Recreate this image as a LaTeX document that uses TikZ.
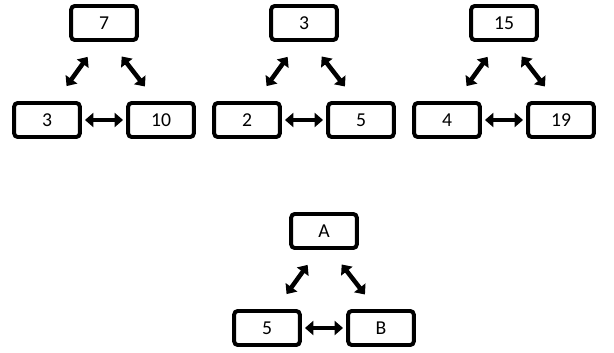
\documentclass[tikz,border=0pt]{standalone}
\usepackage{fontspec}
\setmainfont{Carlito}
\usepackage{tikz}
\usetikzlibrary{arrows.meta,positioning,calc}
\tikzstyle{box}  =[rectangle, draw, rounded corners=2.5pt,
                   line width=2.8pt, minimum width=1.64cm,
                   minimum height=0.85cm, inner sep=0pt,
                   font=\fontsize{14}{16}\selectfont]
\tikzstyle{dedge}=[<->, >={Triangle[length=6pt,width=10pt]},
                   line width=3.2pt]
\tikzstyle{sedge}=[dedge, shorten <=0.46cm, shorten >=0.46cm]
\tikzstyle{hedge}=[dedge, shorten <=0.08cm, shorten >=0.08cm]

\begin{document}
\begin{tikzpicture}
    \useasboundingbox (0,0) rectangle (15.35,8.8);

        %triangle 7, 3, 10
        \begin{scope}[xshift=2.6cm,yshift=8.225cm]
            \draw (0,0) node (t1) [box] {7};
            \draw (-1.425,-2.425) node (l1) [box] {3};
            \draw (1.425,-2.425) node (r1) [box] {10};
            \draw [sedge] ([xshift=-0.14cm]t1.south) -- ([xshift=0.22cm]l1.north);
            \draw [sedge] ([xshift=0.16cm]t1.south) -- ([xshift=-0.12cm]r1.north);
            \draw [hedge] (l1) -- (r1);
        \end{scope}

        %triangle 3, 2, 5
        \begin{scope}[xshift=7.6cm,yshift=8.225cm]
            \draw (0,0) node (t2) [box] {3};
            \draw (-1.425,-2.425) node (l2) [box] {2};
            \draw (1.425,-2.425) node (r2) [box] {5};
            \draw [sedge] ([xshift=-0.14cm]t2.south) -- ([xshift=0.22cm]l2.north);
            \draw [sedge] ([xshift=0.16cm]t2.south) -- ([xshift=-0.12cm]r2.north);
            \draw [hedge] (l2) -- (r2);
        \end{scope}

        %triangle 15, 4, 19
        \begin{scope}[xshift=12.6cm,yshift=8.225cm]
            \draw (0,0) node (t3) [box] {15};
            \draw (-1.425,-2.425) node (l3) [box] {4};
            \draw (1.425,-2.425) node (r3) [box] {19};
            \draw [sedge] ([xshift=-0.14cm]t3.south) -- ([xshift=0.22cm]l3.north);
            \draw [sedge] ([xshift=0.16cm]t3.south) -- ([xshift=-0.12cm]r3.north);
            \draw [hedge] (l3) -- (r3);
        \end{scope}

        %triangle A, 5, B
        \begin{scope}[xshift=8.1cm,yshift=3.025cm]
            \draw (0,0) node (t4) [box] {A};
            \draw (-1.425,-2.425) node (l4) [box] {5};
            \draw (1.425,-2.425) node (r4) [box] {B};
            \draw [sedge] ([xshift=-0.14cm]t4.south) -- ([xshift=0.22cm]l4.north);
            \draw [sedge] ([xshift=0.16cm]t4.south) -- ([xshift=-0.12cm]r4.north);
            \draw [hedge] (l4) -- (r4);
        \end{scope}

\end{tikzpicture}
\end{document}
